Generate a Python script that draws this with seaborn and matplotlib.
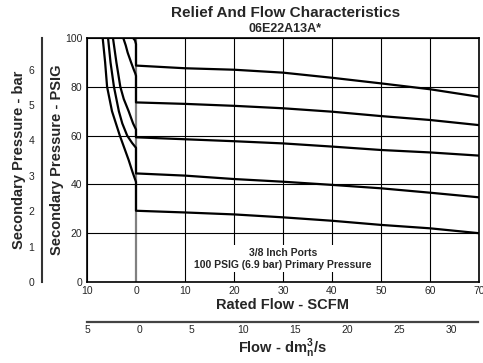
import matplotlib
matplotlib.use('Agg')
import matplotlib.pyplot as plt
import seaborn as sns
import numpy as np
import pandas as pd

# ---------------- data ----------------
flow_x = [0, 10, 20, 30, 40, 50, 60, 70]
flow_1 = [88.7, 87.6, 87.0, 85.8, 83.7, 81.4, 79.0, 75.9]
flow_2 = [73.6, 73.0, 72.2, 71.2, 69.8, 68.0, 66.4, 64.3]
flow_3 = [59.3, 58.5, 57.7, 56.8, 55.5, 54.1, 53.1, 51.8]
flow_4 = [44.5, 43.6, 42.2, 41.1, 39.8, 38.4, 36.6, 34.7]
flow_5 = [29.2, 28.5, 27.7, 26.5, 25.1, 23.4, 22.0, 20.0]

relief_1_x = [-0.6, -0.2, 0.0]
relief_1_y = [100, 99, 97.5]
relief_2_x = [-2.6, -2.1, -1.7, -1.0, -0.45, -0.15, 0.0]
relief_2_y = [100, 97, 94, 90, 87, 85.5, 84.5]
relief_3_x = [-4.7, -4.0, -3.2, -2.5, -1.5, -0.6, 0.0]
relief_3_y = [100, 90, 80, 75, 70, 65, 62.5]
relief_4_x = [-5.7, -5.2, -4.5, -3.5, -2.8, -1.8, -0.8, 0.0]
relief_4_y = [100, 90, 80, 70, 65, 60, 57, 55]
relief_5_x = [-6.8, -6.3, -5.9, -4.9, -3.3, -2.4, -1.5, -0.7, 0.0]
relief_5_y = [100, 90, 80, 70, 60, 55, 50, 45, 41]

x_ticks = [-10, 0, 10, 20, 30, 40, 50, 60, 70]
y_ticks = [0, 20, 40, 60, 80, 100]
bar_ticks = [0, 1, 2, 3, 4, 5, 6]
dm_ticks = [-5, 0, 5, 10, 15, 20, 25, 30]
PSI_PER_BAR = 14.5038

# ---------------- style ----------------
sns.set_style('white')
plt.rcParams['font.family'] = ['Liberation Sans', 'DejaVu Sans']
plt.rcParams['mathtext.fontset'] = 'custom'
plt.rcParams['mathtext.rm'] = 'Liberation Sans'
plt.rcParams['mathtext.bf'] = 'Liberation Sans:bold'

W, H = 483, 363
fig = plt.figure(figsize=(W / 100, H / 100), dpi=100)
L, R, T, B = 87, 479, 38, 282
ax = fig.add_axes([L / W, 1 - B / H, (R - L) / W, (B - T) / H])

rows = []
curves = [(relief_1_x, relief_1_y, flow_1), (relief_2_x, relief_2_y, flow_2),
          (relief_3_x, relief_3_y, flow_3), (relief_4_x, relief_4_y, flow_4),
          (relief_5_x, relief_5_y, flow_5)]
for i, (rx, ry, fl) in enumerate(curves):
    order = 0
    for xv, yv in zip(rx, ry):
        rows.append(dict(curve=i, order=order, x=xv, y=yv)); order += 1
    for xv, yv in zip(flow_x, fl):
        rows.append(dict(curve=i, order=order, x=xv, y=yv)); order += 1
df = pd.DataFrame(rows)

ax.set_xlim(-10, 70)
ax.set_ylim(0, 100)
ax.set_xticks(x_ticks)
ax.set_yticks(y_ticks)
ax.set_xticklabels([str(abs(v)) for v in x_ticks], fontsize=7.5)
ax.set_yticklabels([str(v) for v in y_ticks], fontsize=7.5)
ax.tick_params(axis='both', length=0)
ax.tick_params(axis='y', pad=3.5)
ax.tick_params(axis='x', pad=3)
ax.grid(True, color='black', linewidth=0.8)
ax.set_axisbelow(True)
for v, gl in zip(x_ticks, ax.get_xgridlines()):
    if v == 0:
        gl.set_color('#808080')
        gl.set_linewidth(1.6)

sns.lineplot(data=df, x='x', y='y', units='curve', estimator=None, sort=False,
             color='black', linewidth=1.6, ax=ax, legend=False,
             solid_joinstyle='round', zorder=3)
ax.set_xlim(-10, 70)
ax.set_ylim(0, 100)
for s in ax.spines.values():
    s.set_color('black')
    s.set_linewidth(1.2)
    s.set_zorder(5)

ax.set_xlabel('Rated Flow - SCFM', fontsize=10.5, fontweight='bold', labelpad=1.5)
ax.set_ylabel('Secondary Pressure - PSIG', fontsize=10.5, fontweight='bold', labelpad=0.5)

ax.text(30, 9.6, '3/8 Inch Ports\n100 PSIG (6.9 bar) Primary Pressure',
        ha='center', va='center', fontsize=7.5, fontweight='bold', linespacing=1.25,
        bbox=dict(facecolor='white', edgecolor='none', pad=1.5), zorder=4)

fig.text(286 / W, 1 - 13 / H, 'Relief And Flow Characteristics', ha='center', va='center',
         fontsize=11, fontweight='bold')
fig.text(285 / W, 1 - 28.5 / H, '06E22A13A*', ha='center', va='center',
         fontsize=9, fontweight='bold')

# bar axis
ax2 = fig.add_axes([42 / W, 1 - B / H, 0.0001, (B - T) / H])
ax2.set_ylim(0, 100 / PSI_PER_BAR)
ax2.set_xticks([])
ax2.set_yticks(bar_ticks)
ax2.set_yticklabels([str(v) for v in bar_ticks], fontsize=7.5)
for k in ['top', 'right', 'bottom']:
    ax2.spines[k].set_visible(False)
ax2.spines['left'].set_color('#333333')
ax2.spines['left'].set_linewidth(1.5)
ax2.tick_params(axis='y', direction='out', length=3.5, width=1, color='#333333', pad=2)
ax2.patch.set_alpha(0)
ax2.set_ylabel('Secondary Pressure - bar', fontsize=10.5, fontweight='bold', labelpad=2)

# dm3/s axis
ax3 = fig.add_axes([L / W, 1 - 321.7 / H, (478 - L) / W, 0.0001])
ax3.set_xlim(-5.04, 32.6)
ax3.set_yticks([])
ax3.set_xticks(dm_ticks)
ax3.set_xticklabels([str(abs(v)) for v in dm_ticks], fontsize=7.5)
for k in ['top', 'right', 'left']:
    ax3.spines[k].set_visible(False)
ax3.spines['bottom'].set_color('#444444')
ax3.spines['bottom'].set_linewidth(1.6)
ax3.tick_params(axis='x', direction='in', length=4.5, width=1, color='#444444', pad=2.5)
ax3.patch.set_alpha(0)
ax3.set_xlabel(r'Flow - dm$^{\mathbf{3}}_{\mathbf{n}}$/s', fontsize=10.5, fontweight='bold', labelpad=0.5)

fig.savefig('out.png', dpi=100)
